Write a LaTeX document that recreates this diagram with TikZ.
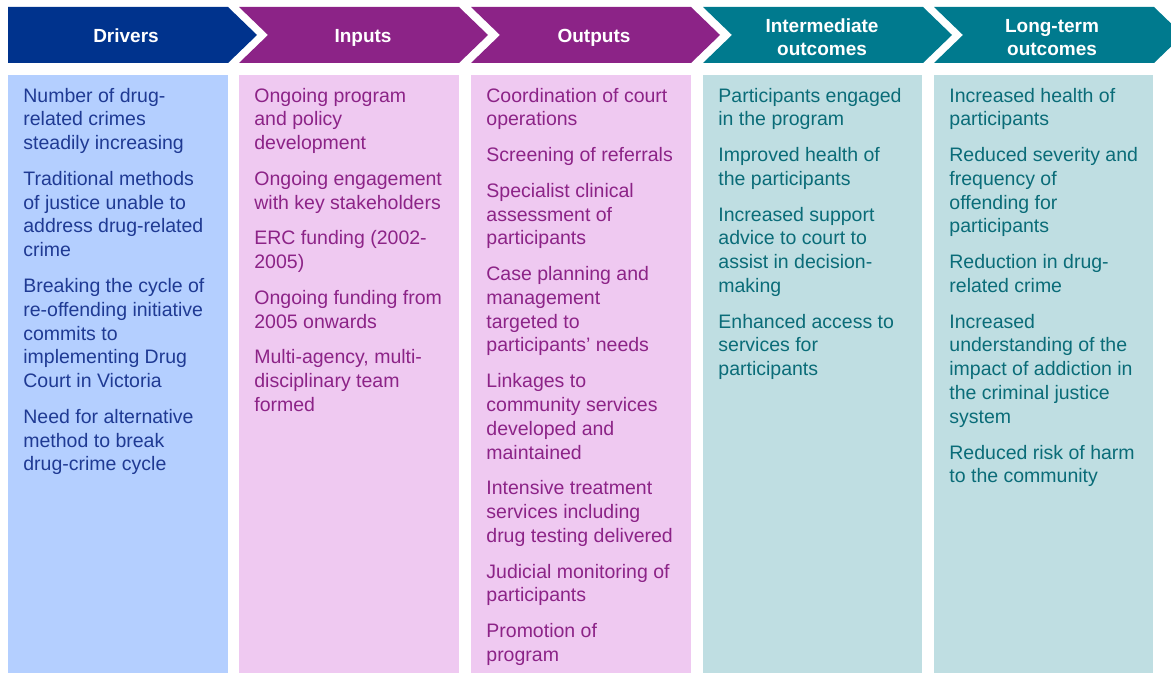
\documentclass[tikz,border=0pt]{standalone}
\usepackage{fontspec}
\setmainfont{Liberation Sans}
\usetikzlibrary{positioning}
\definecolor{drvhead}{HTML}{00338D}
\definecolor{drvbody}{HTML}{B4CFFF}
\definecolor{drvtext}{HTML}{1F3A93}
\definecolor{purhead}{HTML}{8C2387}
\definecolor{purbody}{HTML}{EFC9F1}
\definecolor{purtext}{HTML}{8C2387}
\definecolor{tealhead}{HTML}{007A8E}
\definecolor{tealbody}{HTML}{BFDEE2}
\definecolor{tealtext}{HTML}{0A6C78}
\begin{document}
\begin{tikzpicture}[x=0.5pt,y=-0.5pt,
  head/.style={text=white,align=center,inner sep=0pt,font=\bfseries\fontsize{9.5}{11.5}\selectfont},
  item/.style={anchor=north west,align=left,inner sep=0pt,font=\fontsize{9.75}{11.9}\selectfont},
  next/.style={item,below=5.55pt of #1.south west,anchor=north west}]
\useasboundingbox (0,0) rectangle (1171,673);
\clip (0,0) rectangle (1171,673);
% headers
\fill[drvhead] (8,7) -- (228,7) -- (257,35) -- (228,63) -- (8,63) -- cycle;
\foreach \x/\c in {239/purhead,471/purhead,703/tealhead,934/tealhead}
  \fill[\c] (\x,7) -- ++(220,0) -- ++(29,28) -- ++(-29,28) -- ++(-220,0) -- ++(29,-28) -- cycle;
\node[head,anchor=base] (hd) at (126,42.5) {Drivers};
\node[head,anchor=base] (hi) at (363,42.5) {Inputs};
\node[head,anchor=base] (ho) at (594,42.5) {Outputs};
\node[head] (hm) at (822,37.5) {Intermediate\\outcomes};
\node[head] (hl) at (1052,37.5) {Long-term\\outcomes};
% columns
\fill[drvbody] (8,75) rectangle (228,673);
\fill[purbody] (239,75) rectangle (459,673);
\fill[purbody] (471,75) rectangle (691,673);
\fill[tealbody] (703,75) rectangle (922,673);
\fill[tealbody] (934,75) rectangle (1153,673);
% drivers
\begin{scope}[every node/.append style={text=drvtext}]
\node[item] (d1) at (23,85) {\strut Number of drug-\\related crimes\\steadily increasing\strut};
\node[next=d1] (d2) {\strut Traditional methods\\of justice unable to\\address drug-related\\crime\strut};
\node[next=d2] (d3) {\strut Breaking the cycle of\\re-offending initiative\\commits to\\implementing Drug\\Court in Victoria\strut};
\node[next=d3] (d4) {\strut Need for alternative\\method to break\\drug-crime cycle\strut};
\end{scope}
% inputs
\begin{scope}[every node/.append style={text=purtext}]
\node[item] (i1) at (254,85) {\strut Ongoing program\\and policy\\development\strut};
\node[next=i1] (i2) {\strut Ongoing engagement\\with key stakeholders\strut};
\node[next=i2] (i3) {\strut ERC funding (2002-\\2005)\strut};
\node[next=i3] (i4) {\strut Ongoing funding from\\2005 onwards\strut};
\node[next=i4] (i5) {\strut Multi-agency, multi-\\disciplinary team\\formed\strut};
\end{scope}
% outputs
\begin{scope}[every node/.append style={text=purtext}]
\node[item] (o1) at (486,85) {\strut Coordination of court\\operations\strut};
\node[next=o1] (o2) {\strut Screening of referrals\strut};
\node[next=o2] (o3) {\strut Specialist clinical\\assessment of\\participants\strut};
\node[next=o3] (o4) {\strut Case planning and\\management\\targeted to\\participants’ needs\strut};
\node[next=o4] (o5) {\strut Linkages to\\community services\\developed and\\maintained\strut};
\node[next=o5] (o6) {\strut Intensive treatment\\services including\\drug testing delivered\strut};
\node[next=o6] (o7) {\strut Judicial monitoring of\\participants\strut};
\node[next=o7] (o8) {\strut Promotion of\\program\strut};
\end{scope}
% intermediate outcomes
\begin{scope}[every node/.append style={text=tealtext}]
\node[item] (m1) at (718,85) {\strut Participants engaged\\in the program\strut};
\node[next=m1] (m2) {\strut Improved health of\\the participants\strut};
\node[next=m2] (m3) {\strut Increased support\\advice to court to\\assist in decision-\\making\strut};
\node[next=m3] (m4) {\strut Enhanced access to\\services for\\participants\strut};
\end{scope}
% long-term outcomes
\begin{scope}[every node/.append style={text=tealtext}]
\node[item] (l1) at (949,85) {\strut Increased health of\\participants\strut};
\node[next=l1] (l2) {\strut Reduced severity and\\frequency of\\offending for\\participants\strut};
\node[next=l2] (l3) {\strut Reduction in drug-\\related crime\strut};
\node[next=l3] (l4) {\strut Increased\\understanding of the\\impact of addiction in\\the criminal justice\\system\strut};
\node[next=l4] (l5) {\strut Reduced risk of harm\\to the community\strut};
\end{scope}
\end{tikzpicture}
\end{document}
